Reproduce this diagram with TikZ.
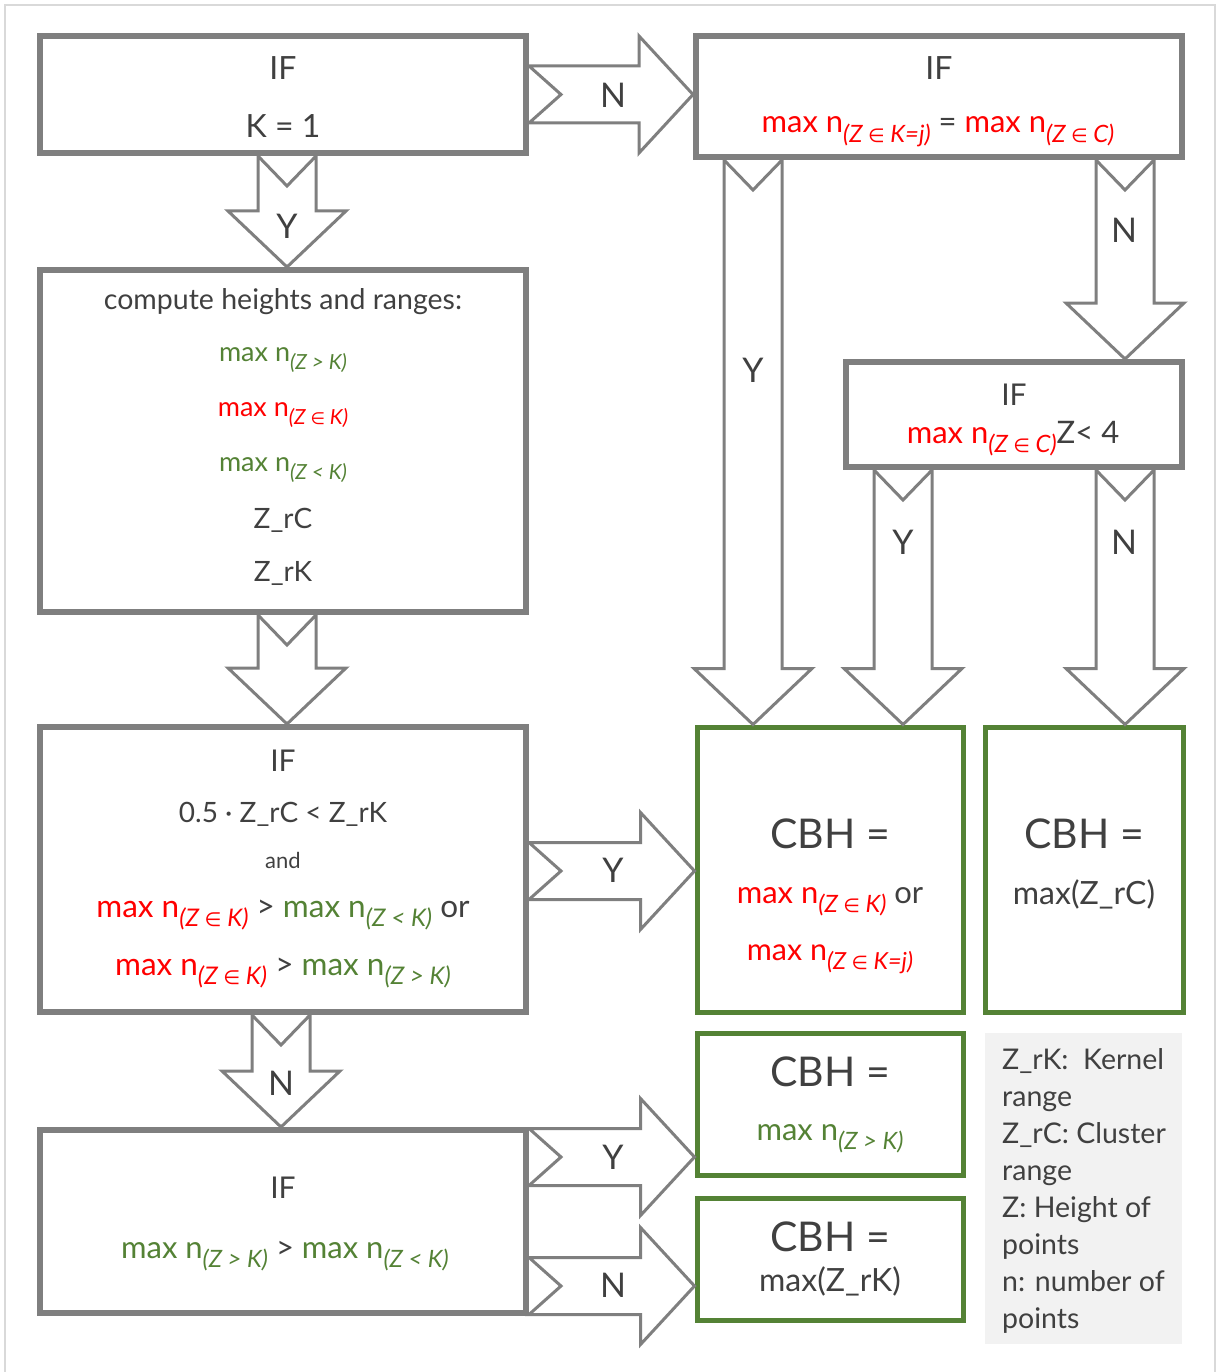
\documentclass[tikz,border=0pt]{standalone}
\usepackage{fontspec}
\setmainfont{Lato}
\newfontfamily\symfont{DejaVu Sans}
\usetikzlibrary{calc}
\definecolor{bgray}{HTML}{7F7F7F}
\definecolor{tgray}{HTML}{404040}
\definecolor{gbord}{HTML}{548235}
\definecolor{gtext}{HTML}{548235}
\definecolor{rtext}{HTML}{FF0000}
\definecolor{legbg}{HTML}{F2F2F2}
\definecolor{framec}{HTML}{D9D9D9}
\newcommand\fs[1]{\fontsize{#1}{#1}\selectfont}
\newcommand\inn{{\symfont\upshape\scalebox{0.8}{∈}}}
\newcommand\sbs[1]{\raisebox{-0.3em}{\scalebox{0.77}{\itshape #1}}}
\newcommand\mxn[1]{max n\sbs{(#1)}}
\newcommand\rarrow[2]{\draw[barrow] let \p1=#1, \p2=#2 in
  (\x1,{\y1+28.5pt}) -- ({\x2-54pt},{\y1+28.5pt}) -- ({\x2-54pt},{\y1+58.5pt}) --
  (\x2,\y1) -- ({\x2-54pt},{\y1-58.5pt}) -- ({\x2-54pt},{\y1-28.5pt}) --
  (\x1,{\y1-28.5pt}) -- ({\x1+32pt},\y1) -- cycle;}
\newcommand\darrow[2]{\draw[barrow] let \p1=#1, \p2=#2 in
  ({\x1-29pt},\y1) -- (\x1,{\y1-30pt}) -- ({\x1+29pt},\y1) -- ({\x1+29pt},{\y2+56pt}) --
  ({\x1+59pt},{\y2+56pt}) -- (\x1,\y2) -- ({\x1-59pt},{\y2+56pt}) -- ({\x1-29pt},{\y2+56pt}) -- cycle;}
\begin{document}
\begin{tikzpicture}[x=1pt,y=-1pt,
  graybox/.style={draw=bgray,line width=6pt,inner sep=0pt},
  greenbox/.style={draw=gbord,line width=5pt,inner sep=0pt},
  barrow/.style={draw=bgray,line width=3pt,fill=white,line join=miter},
  txt/.style={inner sep=0pt,anchor=base,text=tgray},
  lbl/.style={inner sep=0pt,text=tgray,font=\fs{34}}]
\useasboundingbox (0,0) rectangle (1221,1372);
\draw[framec,line width=1.5pt] (5,1372) -- (5,5) -- (1215,5) -- (1215,1372);
% boxes
\node[graybox,minimum width=486pt,minimum height=117pt] (A) at (283,94.5) {};
\node[graybox,minimum width=486pt,minimum height=121pt] (B) at (939,96.5) {};
\node[graybox,minimum width=486pt,minimum height=342pt] (C) at (283,441) {};
\node[graybox,minimum width=336pt,minimum height=105pt] (D) at (1014,414.5) {};
\node[graybox,minimum width=486pt,minimum height=285pt] (E) at (283,869.5) {};
\node[graybox,minimum width=486pt,minimum height=183pt] (J) at (283,1221.5) {};
\node[greenbox,minimum width=266pt,minimum height=285pt] (F) at (830,869.5) {};
\node[greenbox,minimum width=198pt,minimum height=285pt] (G) at (1084,869.5) {};
\node[greenbox,minimum width=266pt,minimum height=142pt] (H) at (830,1104) {};
\node[greenbox,minimum width=266pt,minimum height=122pt] (I) at (830,1259) {};
\node[fill=legbg,inner sep=0pt,minimum width=197pt,minimum height=311pt] (L) at (1083.5,1188.5) {};
% coordinates for arrow axes
\coordinate (xac) at (287,0);
\coordinate (xbf) at (753,0);
\coordinate (xbd) at (1125,0);
\coordinate (xdf) at (903,0);
\coordinate (xej) at (281,0);
\coordinate (yef) at (0,871);
\coordinate (yjh) at (0,1157);
\coordinate (yji) at (0,1286);
% arrows
\rarrow{(A.east)}{(B.west)}
\darrow{(A.south -| xac)}{(C.north -| xac)}
\darrow{(C.south -| xac)}{(E.north -| xac)}
\darrow{(B.south -| xbf)}{(F.north -| xbf)}
\darrow{(B.south -| xbd)}{(D.north -| xbd)}
\darrow{(D.south -| xdf)}{(F.north -| xdf)}
\darrow{(D.south -| xbd)}{(G.north -| xbd)}
\rarrow{(E.east |- yef)}{(F.west |- yef)}
\darrow{(E.south -| xej)}{(J.north -| xej)}
\rarrow{(J.east |- yjh)}{(H.west |- yjh)}
\rarrow{(J.east |- yji)}{(I.west |- yji)}
% arrow labels
\node[lbl] (lab1) at (613,95) {N};
\node[lbl] (lab2) at (287,226) {Y};
\node[lbl] (lab3) at (753,370) {Y};
\node[lbl] (lab4) at (1124,230) {N};
\node[lbl] (lab5) at (903,542) {Y};
\node[lbl] (lab6) at (1124,542) {N};
\node[lbl] (lab7) at (613,870) {Y};
\node[lbl] (lab8) at (281,1083) {N};
\node[lbl] (lab9) at (613,1157) {Y};
\node[lbl] (lab10) at (613,1285) {N};
% box A
\node[txt,font=\fs{32}] (A1) at (283,80) {IF};
\node[txt,font=\fs{32}] (A2) at (283,138) {K = 1};
% box B
\node[txt,font=\fs{32}] (B1) at (939,80) {IF};
\node[txt,font=\fs{31}] (B2) at (938,133) {{\color{rtext}\mxn{Z \inn\ K=j}} = {\color{rtext}\mxn{Z \inn\ C}}};
% box C
\node[txt,font=\fs{28.5}] (C1) at (283,309) {compute heights and ranges:};
\node[txt,font=\fs{27}] (C2) at (283,361) {\color{gtext}\mxn{Z > K}};
\node[txt,font=\fs{27}] (C3) at (283,416) {\color{rtext}\mxn{Z \inn\ K}};
\node[txt,font=\fs{27}] (C4) at (283,471) {\color{gtext}\mxn{Z < K}};
\node[txt,font=\fs{28}] (C5) at (283,528) {Z\_rC};
\node[txt,font=\fs{28}] (C6) at (283,581) {Z\_rK};
% box D
\node[txt,font=\fs{30}] (D1) at (1014,405) {IF};
\node[txt,font=\fs{31}] (D2) at (1013,443) {{\color{rtext}\mxn{Z \inn\ C}}Z< 4};
% box E
\node[txt,font=\fs{30}] (E1) at (283,771) {IF};
\node[txt,font=\fs{28}] (E2) at (283,822) {0.5 · Z\_rC < Z\_rK};
\node[txt,font=\fs{22}] (E3) at (283,868) {and};
\node[txt,font=\fs{31.5}] (E4) at (283,917) {{\color{rtext}\mxn{Z \inn\ K}} > {\color{gtext}\mxn{Z < K}} or};
\node[txt,font=\fs{31.5}] (E5) at (283,975) {{\color{rtext}\mxn{Z \inn\ K}} > {\color{gtext}\mxn{Z > K}}};
% box J
\node[txt,font=\fs{30}] (J1) at (283,1198) {IF};
\node[txt,font=\fs{31}] (J2) at (285,1258) {{\color{gtext}\mxn{Z > K}} > {\color{gtext}\mxn{Z < K}}};
% box F
\node[txt,font=\fs{41}] (F1) at (830,848) {CBH =};
\node[txt,font=\fs{31}] (F2) at (830,903) {{\color{rtext}\mxn{Z \inn\ K}} or};
\node[txt,font=\fs{30.5}] (F3) at (830,960) {\color{rtext}\mxn{Z \inn\ K=j}};
% box G
\node[txt,font=\fs{41}] (G1) at (1084,848) {CBH =};
\node[txt,font=\fs{32}] (G2) at (1084,904) {max(Z\_rC)};
% box H
\node[txt,font=\fs{41}] (H1) at (830,1086) {CBH =};
\node[txt,font=\fs{31}] (H2) at (830,1140) {\color{gtext}\mxn{Z > K}};
% box I
\node[txt,font=\fs{41}] (I1) at (830,1251) {CBH =};
\node[txt,font=\fs{32}] (I2) at (830,1291) {max(Z\_rK)};
% legend
\node[inner sep=0pt,anchor=north west,align=left,text=tgray,font=\fontsize{28.5}{37}\selectfont] (L1) at (1002,1048)
  {Z\_rK:\ \ Kernel\\range\\Z\_rC: Cluster\\range\\Z: Height of\\points\\n: number of\\points};
\end{tikzpicture}
\end{document}
